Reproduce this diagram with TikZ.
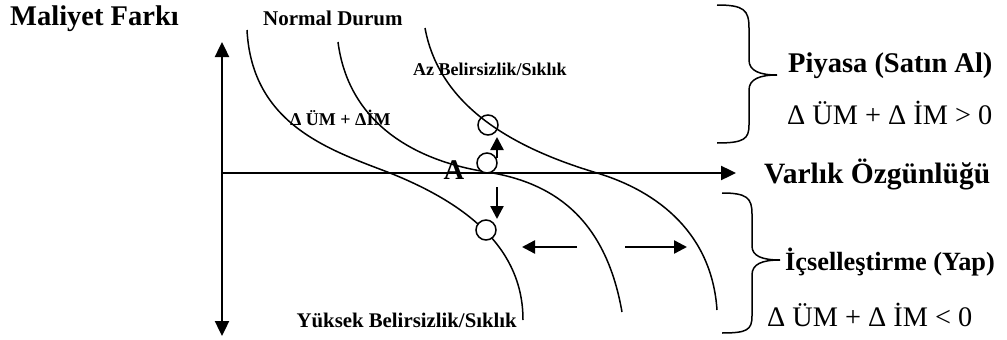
\documentclass[tikz,border=0pt]{standalone}
\usepackage{fontspec}
\setmainfont{Liberation Serif}
\usetikzlibrary{arrows.meta}
\begin{document}
\begin{tikzpicture}[x=1pt,y=-1pt,
  axis/.style={line width=2.4pt,-{Triangle[length=15pt,width=14pt]}},
  biaxis/.style={line width=2.4pt,{Triangle[length=15pt,width=14pt]}-{Triangle[length=15pt,width=14pt]}},
  move/.style={line width=2.4pt,-{Triangle[length=13pt,width=13pt]}},
  curve/.style={line width=1.5pt},
  brace/.style={line width=1.5pt},
  pt/.style={circle,draw,line width=1.5pt,minimum size=20pt,inner sep=0pt},
  big/.style={font=\bfseries\fontsize{28.5}{30}\selectfont,inner sep=0pt},
  plain/.style={font=\fontsize{28.3}{30}\selectfont,inner sep=0pt},
  mid/.style={font=\bfseries\fontsize{21}{23}\selectfont,inner sep=0pt},
  small/.style={font=\bfseries\fontsize{18}{20}\selectfont,inner sep=0pt}]
\useasboundingbox (0,0) rectangle (1007,340);

% axes
\coordinate (vtop) at (222,42);
\coordinate (vbot) at (222,336);
\coordinate (origin) at (222,173);
\coordinate (hend) at (736,173);
\draw[biaxis] (vbot) -- (vtop);
\draw[axis] (origin) -- (hend);

% cost curves
\draw[curve] (247,30) .. controls (252,125) and (330,150) .. (390,173)
  .. controls (470,205) and (523,250) .. (523,320);
\draw[curve] (338,42) .. controls (348,120) and (410,160) .. (487,172)
  .. controls (550,182) and (605,215) .. (622,312);
\draw[curve] (425,28) .. controls (440,110) and (520,150) .. (597,173)
  .. controls (660,192) and (712,235) .. (717,310);

% equilibrium points
\node[pt] (up) at (488,125) {};
\node[pt,fill=white] (a) at (487,163) {};
\node[pt,fill=white] (low) at (486,230) {};

% shifts
\coordinate (upfrom) at (497,158);
\coordinate (upto) at (497,137);
\coordinate (dnfrom) at (497,187);
\coordinate (dnto) at (497,219);
\draw[move] (upfrom) -- (upto);
\draw[move] (dnfrom) -- (dnto);
\coordinate (lfrom) at (577,247);
\coordinate (lto) at (522,247);
\coordinate (rfrom) at (625,247);
\coordinate (rto) at (687,247);
\draw[move] (lfrom) -- (lto);
\draw[move] (rfrom) -- (rto);

% braces
\draw[brace] (717,5) .. controls (744,5) and (749,10) .. (749,28) -- (749,60)
  .. controls (749,71) and (760,75) .. (777,75)
  .. controls (760,75) and (749,79) .. (749,90) -- (749,125)
  .. controls (749,139) and (744,143) .. (717,143);
\draw[brace] (722,193) .. controls (747,193) and (752,198) .. (752,214) -- (752,246)
  .. controls (752,256) and (762,260) .. (780,260)
  .. controls (762,260) and (752,264) .. (752,275) -- (752,316)
  .. controls (752,330) and (747,333) .. (722,333);

% labels
\node[big,anchor=base west] (maliyet) at (10,25) {Maliyet Farkı};
\node[mid,anchor=base west] (normal) at (263,25) {Normal Durum};
\node[small,anchor=base west] (az) at (413,75) {Az Belirsizlik/Sıklık};
\node[small,anchor=base west] (delta) at (290,125) {Δ ÜM + ΔİM};
\node[big,anchor=base] (alabel) at (454,179) {A};
\node[mid,font=\bfseries\fontsize{20.8}{22}\selectfont,anchor=base east] (yuksek) at (517,327) {Yüksek Belirsizlik/Sıklık};
\node[big,anchor=base west] (piyasa) at (788,72) {Piyasa (Satın Al)};
\node[plain,anchor=base west] (pos) at (787,124) {Δ ÜM + Δ İM > 0};
\node[big,font=\bfseries\fontsize{29.5}{31}\selectfont,anchor=base west] (varlik) at (764,183) {Varlık Özgünlüğü};
\node[big,font=\bfseries\fontsize{26.3}{28}\selectfont,anchor=base west] (icsel) at (785,270) {İçselleştirme (Yap)};
\node[plain,anchor=base west] (neg) at (767,326) {Δ ÜM + Δ İM < 0};
\end{tikzpicture}
\end{document}
